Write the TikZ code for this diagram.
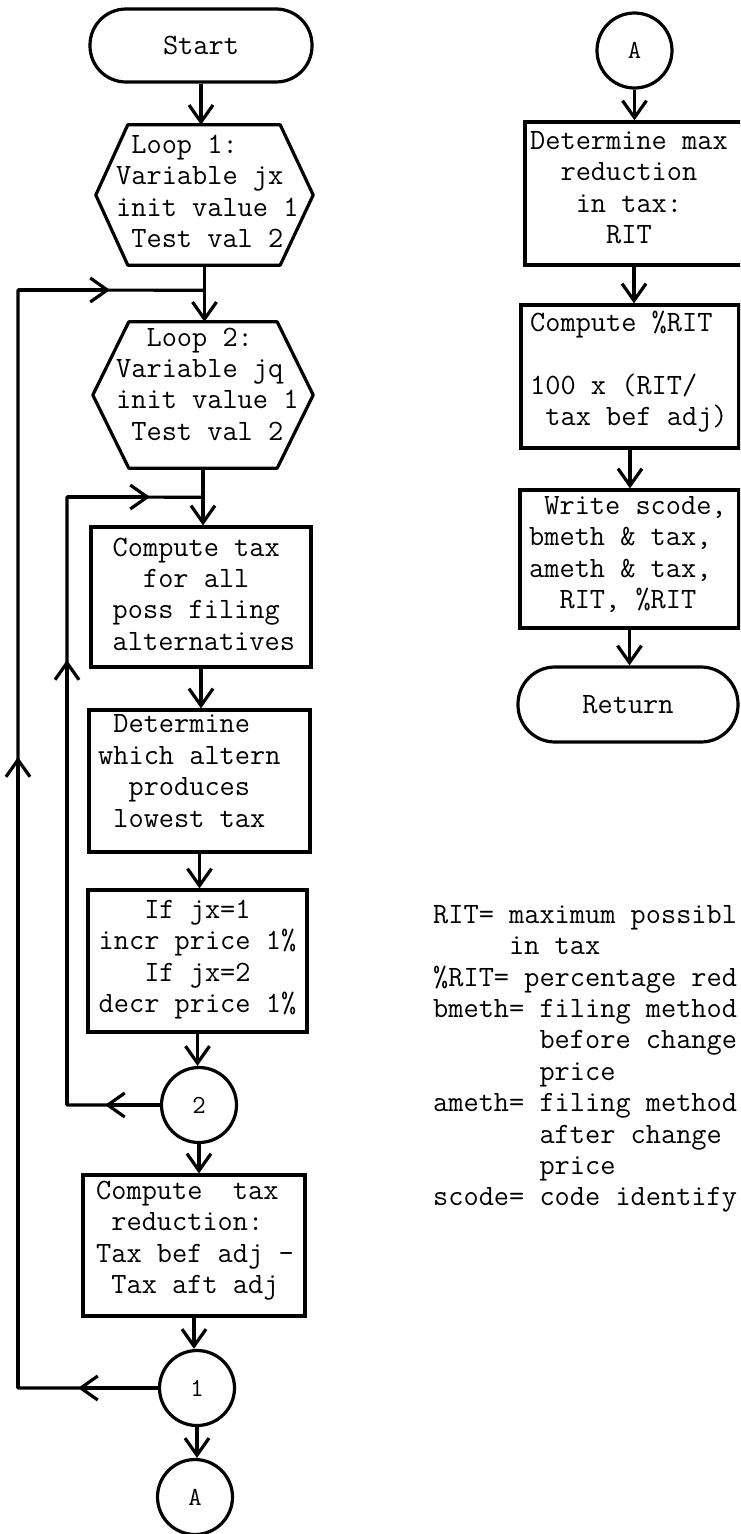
\documentclass[tikz,border=0pt]{standalone}
\usepackage{fontspec}
\usetikzlibrary{arrows.meta}
\newcommand{\tw}{\ttfamily\fontsize{29.5pt}{31.4pt}\selectfont}
\newcommand{\cw}{\ttfamily\fontsize{26pt}{28pt}\selectfont}
\begin{document}
\begin{tikzpicture}[x=1pt,y=-1pt,
  ln/.style={line width=3.2pt, line join=round},
  arr/.style={line width=3.2pt, -{Straight Barb[length=17pt,width=24pt]}},
  box/.style={draw, line width=3.2pt, rectangle, inner sep=0pt},
  ghost/.style={rectangle, inner sep=0pt},
  term/.style={draw, line width=3.2pt, rectangle, rounded corners=36pt, inner sep=0pt, font=\tw},
  conn/.style={draw, line width=3.2pt, circle, minimum size=75pt, inner sep=0pt, font=\cw},
  txt/.style={align=left, inner sep=0pt, anchor=west, font=\tw},
]
\useasboundingbox (0,0) rectangle (740,1534);
\fill[white] (0,0) rectangle (740,1534);
\clip (0,0) rectangle (740,1534);

% ---------- left column ----------
\node[term, minimum width=222pt, minimum height=73pt] (start) at (201,45.5) {Start};

\node[ghost, minimum width=217pt, minimum height=140pt] (loop1) at (204.5,195) {};
\draw[ln] ([xshift=32pt]loop1.north west) -- ([xshift=-33pt]loop1.north east) -- (loop1.east)
  -- ([xshift=-33pt]loop1.south east) -- ([xshift=32pt]loop1.south west) -- (loop1.west) -- cycle;
\node[txt] (loop1t) at (116,191.5) {\hphantom{x}Loop 1:\\Variable jx\\init value 1\\\hphantom{x}Test val 2};

\node[ghost, minimum width=220pt, minimum height=146pt] (loop2) at (203,395) {};
\draw[ln] ([xshift=36pt]loop2.north west) -- ([xshift=-36pt]loop2.north east) -- (loop2.east)
  -- ([xshift=-36pt]loop2.south east) -- ([xshift=36pt]loop2.south west) -- (loop2.west) -- cycle;
\node[txt] (loop2t) at (116,384) {\hphantom{xx}Loop 2:\\Variable jq\\init value 1\\\hphantom{x}Test val 2};

\node[box, minimum width=220pt, minimum height=140pt] (comp) at (201,597) {};
\node[txt] (compt) at (112.5,594) {Compute tax\\\hphantom{xx}for all\\poss filing\\alternatives};

\node[box, minimum width=221pt, minimum height=142pt] (det) at (199.5,781) {};
\node[txt] (dett) at (98,771) {\hphantom{x}Determine\\which altern\\\hphantom{xx}produces\\\hphantom{x}lowest tax};

\node[box, minimum width=219pt, minimum height=142pt] (ifb) at (197.5,961) {};
\node[txt] (ifbt) at (98.5,959.5) {\hphantom{xxx}If jx=1\\incr price 1\%\\\hphantom{xxx}If jx=2\\decr price 1\%};

\node[conn] (c2) at (199,1105) {2};

\node[box, minimum width=222pt, minimum height=141pt] (red) at (194,1245.5) {};
\node[txt] (redt) at (96,1240.75) {Compute~~tax\\\hphantom{x}reduction:\\Tax bef adj -\\\hphantom{x}Tax aft adj};

\node[conn] (c1) at (197,1388) {1};
\node[conn] (cA) at (195,1497) {A};

% main flow
\draw[arr] (start.south) -- (start.south |- loop1.north);
\draw[arr] (loop1.south) -- (loop1.south |- loop2.north);
\draw[arr] (loop2.south) -- (loop2.south |- comp.north);
\draw[arr] (comp.south) -- (comp.south |- det.north);
\draw[arr] (det.south) -- (det.south |- ifb.north);
\draw[arr] (ifb.south) -- (ifb.south |- c2.north);
\draw[arr] (c2.south) -- (c2.south |- red.north);
\draw[arr] (red.south) -- (red.south |- c1.north);
\draw[arr] (c1.south) -- (c1.south |- cA.north);

% loops
\path (loop1.south) ++(0,25) coordinate (j1);
\path (loop2.south) ++(0,29) coordinate (j2);
\coordinate (o1) at (18,1388);
\coordinate (o2) at (18,290);
\coordinate (i1) at (67,1105);
\coordinate (i2) at (67,497);
\coordinate (ta) at (78,1388);
\coordinate (tb) at (18,757);
\coordinate (tc) at (110,290);
\coordinate (td) at (105,1105);
\coordinate (te) at (67,660);
\coordinate (tf) at (150,497);

\draw[ln] (c1.west) -- (o1) -- (o2) -- (j1);
\draw[arr] (c1.west) -- (ta);
\draw[arr] (o1) -- (tb);
\draw[arr] (o2) -- (tc);
\draw[ln] (c2.west) -- (i1) -- (i2) -- (j2);
\draw[arr] (c2.west) -- (td);
\draw[arr] (i1) -- (te);
\draw[arr] (i2) -- (tf);

% ---------- right column ----------
\node[conn] (cA2) at (634.5,50.5) {A};

\node[box, minimum width=218pt, minimum height=143pt] (maxb) at (634,193.5) {};
\node[txt] (maxt) at (530,187.5) {Determine max\\\hphantom{xx}reduction\\\hphantom{xxx}in tax:\\\hphantom{xxxxx}RIT};

\node[box, minimum width=218pt, minimum height=143pt] (pctb) at (630,376.5) {};
\node[txt] (pctt) at (530,372) {Compute \%RIT\\\mbox{}\\100 x (RIT/\\\hphantom{x}tax bef adj)};

\node[box, minimum width=219pt, minimum height=138pt] (writeb) at (629.5,559) {};
\node[txt] (writet) at (529,554.5) {\hphantom{x}Write scode,\\bmeth \& tax,\\ameth \& tax,\\\hphantom{xx}RIT, \%RIT};

\node[term, minimum width=220pt, minimum height=75pt, rounded corners=37pt] (ret) at (628,704.5) {Return};

\draw[arr] (cA2.south) -- (cA2.south |- maxb.north);
\draw[arr] (maxb.south) -- (maxb.south |- pctb.north);
\draw[arr] (pctb.south) -- (pctb.south |- writeb.north);
\draw[arr] (writeb.south) -- (writeb.south |- ret.north);

% legend
\node[txt] (legend) at (433,1059) {RIT= maximum possibl\\\hphantom{xxxxx}in tax\\\%RIT= percentage red\\bmeth= filing method\\\hphantom{xxxxxxx}before change\\\hphantom{xxxxxxx}price\\ameth= filing method\\\hphantom{xxxxxxx}after change\\\hphantom{xxxxxxx}price\\scode= code identify};
\end{tikzpicture}
\end{document}
